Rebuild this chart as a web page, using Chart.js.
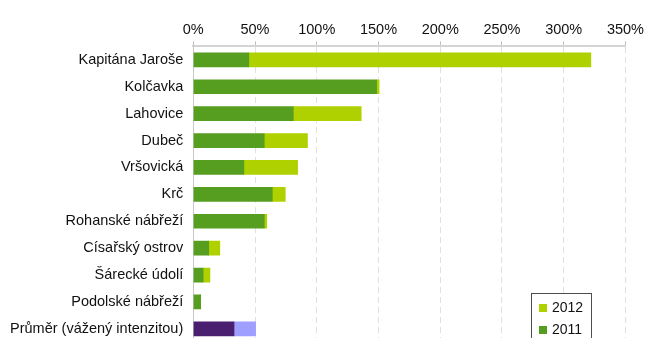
<!DOCTYPE html>
<html>
<head>
<meta charset="utf-8">
<script src="https://cdn.jsdelivr.net/npm/chart.js@4"></script>
<style>
  html, body { margin: 0; padding: 0; background: #fff; overflow: hidden; }
  #wrap { position: relative; width: 647px; height: 361px; }
</style>
</head>
<body>
<div id="wrap"><canvas id="chart"></canvas></div>
<script>
const categories = ['Kapitána Jaroše', 'Kolčavka', 'Lahovice', 'Dubeč', 'Vršovická', 'Krč',
  'Rohanské nábřeží', 'Císařský ostrov', 'Šárecké údolí', 'Podolské nábřeží', 'Průměr (vážený intenzitou)'];
// 2011 share and the 2012 increment on top of it (in %)
const values2011 = [45, 148.5, 81, 57.5, 41, 64, 57.5, 12.5, 8, 6, 33];
const values2012 = [277, 2, 55, 35, 43.5, 10.5, 2, 9, 5.5, 0, 17.5];
const xTicks = [0, 50, 100, 150, 200, 250, 300, 350];

const green2011 = '#559e1f', green2012 = '#b0d100';
const purple2011 = '#4b1f6f', purple2012 = '#9f9fff';
const lastIdx = categories.length - 1;
const colors2011 = categories.map((c, i) => i === lastIdx ? purple2011 : green2011);
const colors2012 = categories.map((c, i) => i === lastIdx ? purple2012 : green2012);
const fontFamily = '"Liberation Sans", Arial, sans-serif';

const boxLegend = {
  id: 'boxLegend',
  afterDraw(chart) {
    const ctx = chart.ctx;
    const x = 531, y = 293, w = 60, h = 60;
    ctx.save();
    ctx.fillStyle = '#fff';
    ctx.fillRect(x, y, w, h);
    ctx.strokeStyle = '#4d4d4d';
    ctx.lineWidth = 1;
    ctx.strokeRect(x + 0.5, y + 0.5, w, h);
    const items = [['2012', green2012], ['2011', green2011]];
    ctx.font = '14px ' + fontFamily;
    ctx.textBaseline = 'middle';
    items.forEach(([txt, col], i) => {
      const cy = y + 15 + i * 22;
      ctx.fillStyle = col;
      ctx.fillRect(x + 8, cy - 4, 8, 8);
      ctx.fillStyle = '#111';
      ctx.fillText(txt, x + 21, cy);
    });
    ctx.restore();
  }
};

new Chart(document.getElementById('chart'), {
  type: 'bar',
  data: {
    labels: categories,
    datasets: [
      { label: '2011', data: values2011, backgroundColor: colors2011, barThickness: 14 },
      { label: '2012', data: values2012, backgroundColor: colors2012, barThickness: 14 }
    ]
  },
  options: {
    indexAxis: 'y',
    responsive: true,
    maintainAspectRatio: false,
    animation: false,
    layout: { padding: { top: 18, right: 15, left: 0, bottom: 0 } },
    plugins: { legend: { display: false }, tooltip: { enabled: false } },
    scales: {
      x: {
        position: 'top',
        stacked: true,
        min: 0, max: 350,
        afterBuildTicks: (axis) => { axis.ticks = xTicks.map(v => ({ value: v })); },
        ticks: {
          callback: v => v + '%',
          color: '#111',
          padding: 3,
          font: { family: fontFamily, size: 14.5 }
        },
        grid: {
          color: '#e0e0e0',
          lineWidth: 1,
          drawTicks: true,
          tickLength: 5,
          tickColor: '#bdbdbd',
          tickBorderDash: [],
          tickWidth: 1
        },
        border: { display: true, color: '#d4d4d4', width: 2, dash: [6, 4] }
      },
      y: {
        stacked: true,
        ticks: {
          color: '#111',
          padding: 10,
          font: { family: fontFamily, size: 14.5 }
        },
        grid: { display: false, drawTicks: false },
        border: { display: true, color: '#c8c8c8', width: 1 }
      }
    }
  },
  plugins: [boxLegend]
});
</script>
</body>
</html>
